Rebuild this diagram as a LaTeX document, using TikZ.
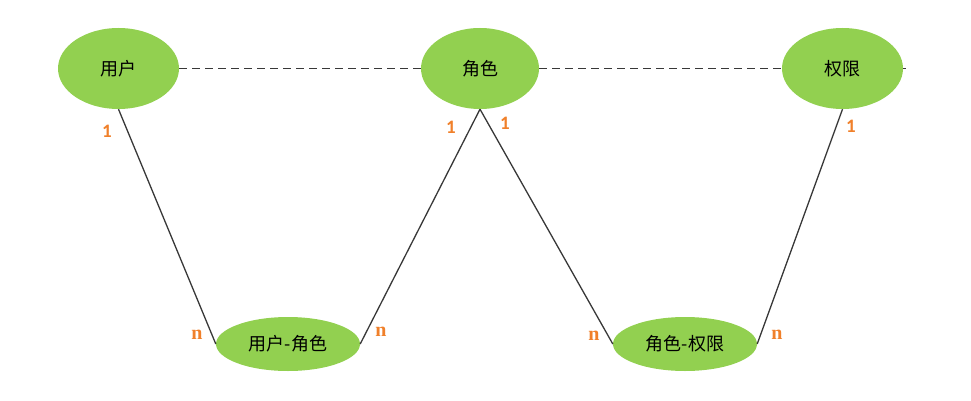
\documentclass[tikz,border=0pt]{standalone}
\usepackage{fontspec}
\newfontfamily\cjk{Noto Sans CJK SC}
\newfontfamily\onefont{Carlito}
\newfontfamily\nfont{Liberation Serif}
\usetikzlibrary{shapes.geometric}
\definecolor{nodegreen}{HTML}{92D050}
\definecolor{labelorange}{HTML}{F0802A}
\definecolor{linegray}{HTML}{383838}
\begin{document}
\begin{tikzpicture}[x=1pt,y=-1pt,
  entity/.style={ellipse,fill=nodegreen,inner sep=0pt,minimum width=121pt,minimum height=81pt,font=\cjk\fontsize{18}{20}\selectfont},
  relation/.style={ellipse,fill=nodegreen,inner sep=0pt,minimum width=144pt,minimum height=54pt,font=\cjk\fontsize{18}{20}\selectfont},
  dashlink/.style={draw=linegray,line width=1.9pt,dash pattern=on 8pt off 5pt},
  solidlink/.style={draw=linegray,line width=1.3pt},
  cardone/.style={text=labelorange,font=\onefont\bfseries\fontsize{19}{21}\selectfont,inner sep=0pt},
  cardn/.style={text=labelorange,font=\nfont\bfseries\fontsize{20}{22}\selectfont,inner sep=0pt}]
\useasboundingbox (0,0) rectangle (971,401);
\node[entity] (u) at (118.5,68.5) {用户};
\node[entity,minimum width=118pt] (r) at (480,68.5) {角色};
\node[entity] (p) at (842.5,68.5) {权限};
\node[relation] (ur) at (288,344) {用户-角色};
\node[relation] (rp) at (685,344) {角色-权限};
\coordinate (pend) at (906,68.5);
\draw[dashlink] (u.east) -- (r.west);
\draw[dashlink] (r.east) -- (p.west);
\draw[dashlink] (p.east) -- (pend);
\draw[solidlink] (u.south) -- (ur.west);
\draw[solidlink] (ur.east) -- (r.south);
\draw[solidlink] (r.south) -- (rp.west);
\draw[solidlink] (rp.east) -- (p.south);
\node[cardone] (c1) at (107,131) {1};
\node[cardone] (c2) at (451,127) {1};
\node[cardone] (c3) at (505,123) {1};
\node[cardone] (c4) at (851,126) {1};
\node[cardn] (n1) at (197,335) {n};
\node[cardn] (n2) at (381,332) {n};
\node[cardn] (n3) at (594,336) {n};
\node[cardn] (n4) at (777,335) {n};
\end{tikzpicture}
\end{document}
